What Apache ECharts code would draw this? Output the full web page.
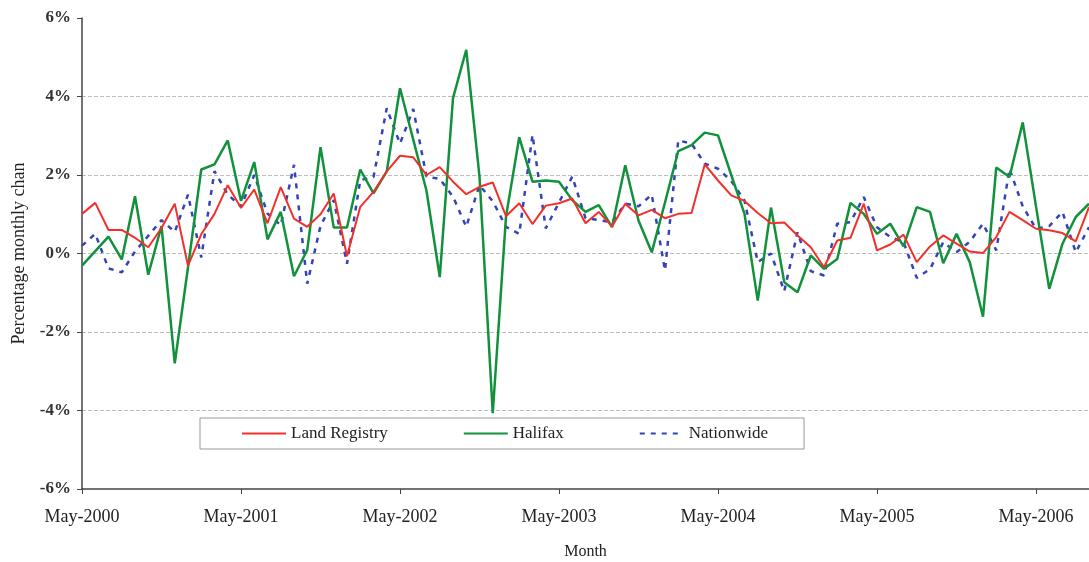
<!DOCTYPE html>
<html>
<head>
<meta charset="utf-8">
<title>Monthly house price change</title>
<script src="https://cdn.jsdelivr.net/npm/echarts@6/dist/echarts.min.js"></script>
<style>
  html, body { margin: 0; padding: 0; background: #fff; }
  #chart { width: 1089px; height: 562px; }
</style>
</head>
<body>
<div id="chart"></div>
<script>
// months, May-2000 .. Sep-2006
const months = [
  "May-2000", "Jun-2000", "Jul-2000", "Aug-2000", "Sep-2000", "Oct-2000", "Nov-2000", "Dec-2000",
  "Jan-2001", "Feb-2001", "Mar-2001", "Apr-2001", "May-2001", "Jun-2001", "Jul-2001", "Aug-2001",
  "Sep-2001", "Oct-2001", "Nov-2001", "Dec-2001", "Jan-2002", "Feb-2002", "Mar-2002", "Apr-2002",
  "May-2002", "Jun-2002", "Jul-2002", "Aug-2002", "Sep-2002", "Oct-2002", "Nov-2002", "Dec-2002",
  "Jan-2003", "Feb-2003", "Mar-2003", "Apr-2003", "May-2003", "Jun-2003", "Jul-2003", "Aug-2003",
  "Sep-2003", "Oct-2003", "Nov-2003", "Dec-2003", "Jan-2004", "Feb-2004", "Mar-2004", "Apr-2004",
  "May-2004", "Jun-2004", "Jul-2004", "Aug-2004", "Sep-2004", "Oct-2004", "Nov-2004", "Dec-2004",
  "Jan-2005", "Feb-2005", "Mar-2005", "Apr-2005", "May-2005", "Jun-2005", "Jul-2005", "Aug-2005",
  "Sep-2005", "Oct-2005", "Nov-2005", "Dec-2005", "Jan-2006", "Feb-2006", "Mar-2006", "Apr-2006",
  "May-2006", "Jun-2006", "Jul-2006", "Aug-2006", "Sep-2006"
];

// percentage monthly change
const landRegistry = [
  1.01, 1.29, 0.60, 0.60, 0.40, 0.16, 0.65, 1.27, -0.31, 0.49, 1.01, 1.74,
  1.16, 1.63, 0.77, 1.69, 0.89, 0.68, 1.00, 1.53, -0.07, 1.19, 1.57, 2.09,
  2.49, 2.45, 2.00, 2.20, 1.83, 1.51, 1.70, 1.81, 0.95, 1.28, 0.75, 1.22,
  1.28, 1.40, 0.77, 1.06, 0.69, 1.27, 0.97, 1.11, 0.90, 1.01, 1.03, 2.27,
  1.86, 1.48, 1.34, 1.03, 0.77, 0.79, 0.46, 0.16, -0.35, 0.33, 0.40, 1.27,
  0.08, 0.23, 0.48, -0.22, 0.18, 0.46, 0.25, 0.05, 0.01, 0.42, 1.06, 0.85,
  0.63, 0.59, 0.52, 0.31, 1.18
];
const halifax = [
  -0.31, 0.06, 0.43, -0.15, 1.46, -0.54, 0.70, -2.80, -0.35, 2.14, 2.27, 2.88,
  1.34, 2.33, 0.36, 1.06, -0.58, 0.09, 2.71, 0.66, 0.66, 2.14, 1.53, 2.09,
  4.21, 2.90, 1.60, -0.60, 3.96, 5.19, 1.96, -4.07, 0.94, 2.96, 1.83, 1.86,
  1.83, 1.36, 1.06, 1.23, 0.67, 2.25, 0.84, 0.03, 1.30, 2.61, 2.76, 3.08,
  3.01, 2.00, 1.01, -1.20, 1.17, -0.73, -0.99, -0.05, -0.39, -0.14, 1.29, 1.01,
  0.50, 0.76, 0.18, 1.18, 1.06, -0.25, 0.50, -0.22, -1.61, 2.19, 1.95, 3.34,
  1.20, -0.90, 0.25, 0.93, 1.27
];
const nationwide = [
  0.20, 0.50, -0.38, -0.48, 0.05, 0.45, 0.85, 0.55, 1.50, -0.10, 2.10, 1.50,
  1.20, 2.00, 1.02, 0.72, 2.26, -0.77, 0.70, 1.36, -0.26, 1.87, 1.95, 3.70,
  2.80, 3.68, 1.96, 1.90, 1.45, 0.68, 1.74, 1.33, 0.68, 0.50, 3.02, 0.64,
  1.30, 1.96, 0.90, 0.85, 0.80, 1.27, 1.20, 1.50, -0.43, 2.88, 2.80, 2.29,
  2.16, 1.85, 1.35, -0.22, 0.00, -0.96, 0.54, -0.45, -0.56, 0.76, 0.80, 1.44,
  0.67, 0.42, 0.29, -0.62, -0.40, 0.29, 0.03, 0.30, 0.76, 0.08, 2.16, 1.20,
  0.63, 0.70, 1.06, 0.03, 0.67
];

const serif = "'Liberation Serif', 'Times New Roman', serif";

const chart = echarts.init(document.getElementById("chart"));

const option = {
  animation: false,
  backgroundColor: "#fff",
  grid: { left: 82, right: 0, top: 18, bottom: 73, outerBoundsMode: "none" },
  legend: {
    data: ["Land Registry", "Halifax", "Nationwide"],
    left: 200,
    top: 418,
    padding: [7, 36, 7, 41],
    itemWidth: 44,
    itemHeight: 14,
    itemGap: 75,
    borderColor: "#999",
    borderWidth: 1,
    backgroundColor: "#fff",
    itemStyle: { opacity: 0 },
    textStyle: { fontFamily: serif, fontSize: 17, color: "#222" },
  },
  xAxis: {
    type: "category",
    data: months,
    boundaryGap: false,
    name: "Month",
    nameLocation: "middle",
    nameGap: 55,
    nameTextStyle: { fontFamily: serif, fontSize: 16, color: "#222" },
    axisLine: { onZero: false, lineStyle: { color: "#444", width: 1.5 } },
    axisTick: { interval: 11, length: 5, lineStyle: { color: "#444" } },
    axisLabel: {
      interval: 11,
      margin: 19,
      fontFamily: serif,
      fontSize: 18,
      color: "#222",
    },
    splitLine: { show: false },
  },
  yAxis: {
    type: "value",
    min: -6,
    max: 6,
    interval: 2,
    name: "Percentage monthly chan",
    nameLocation: "middle",
    nameGap: 54,
    nameTextStyle: { fontFamily: serif, fontSize: 18, color: "#222" },
    axisLine: { show: true, lineStyle: { color: "#444", width: 1.5 } },
    axisTick: { show: true, length: 5, lineStyle: { color: "#444" } },
    axisLabel: {
      formatter: "{value}%",
      margin: 11,
      fontFamily: serif,
      fontSize: 17,
      fontWeight: "bold",
      color: "#333",
    },
    splitLine: {
      show: true,
      showMaxLine: false,
      showMinLine: false,
      lineStyle: { color: "#bdbdbd", type: "dashed", width: 1 },
    },
  },
  series: [
    {
      name: "Land Registry",
      type: "line",
      data: landRegistry,
      symbol: "none",
      z: 4,
      itemStyle: { color: "#f2302b" },
      lineStyle: { color: "#f2302b", width: 2 },
    },
    {
      name: "Halifax",
      type: "line",
      data: halifax,
      symbol: "none",
      z: 3,
      itemStyle: { color: "#12913c" },
      lineStyle: { color: "#12913c", width: 2.5 },
    },
    {
      name: "Nationwide",
      type: "line",
      data: nationwide,
      symbol: "none",
      z: 2,
      itemStyle: { color: "#3343b8" },
      lineStyle: { color: "#3343b8", width: 2.5, type: [5, 6] },
    },
  ],
};

chart.setOption(option);
</script>
</body>
</html>
